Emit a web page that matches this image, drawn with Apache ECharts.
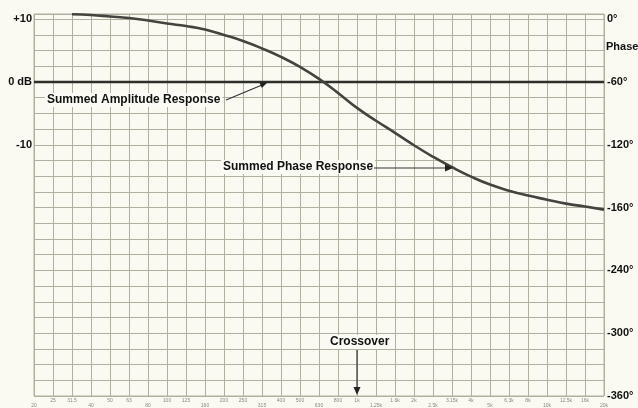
<!DOCTYPE html>
<html><head><meta charset="utf-8">
<script src="https://cdn.jsdelivr.net/npm/echarts@6/dist/echarts.min.js"></script>
<style>html,body{margin:0;padding:0;background:#fafaf3}#c{width:638px;height:408px}</style>
</head><body><div id="c"></div>
<script>
// 1/3-octave frequency labels (Hz)
const freqLabels = ['20','25','31.5','40','50','63','80','100','125','160','200','250','315','400','500','630','800','1k','1.25k','1.6k','2k','2.5k','3.15k','4k','5k','6.3k','8k','10k','12.5k','16k','20k'];
// Summed amplitude response (dB): flat at 0 dB
const amplitudeDb = [0,0,0,0,0,0,0,0,0,0,0,0,0,0,0,0,0,0,0,0,0,0,0,0,0,0,0,0,0,0,0];
// Summed phase response (degrees)
const phaseDeg = [null,null,4.7,4,2.6,1.1,-1.2,-4.1,-6.5,-9.8,-15,-20.8,-27.9,-36,-45.6,-57,-70.4,-84.7,-97,-108.5,-120.4,-131.4,-141.4,-150.4,-158,-163.8,-168.5,-172.4,-176.2,-179,-181.9];
// Tick labels
const dbTickValues = [10, 0, -10];
const dbTickTexts = ['+10', '0 dB', '-10'];
const phaseTickValues = [0, -60, -120, -180, -240, -300, -360];
const phaseTickTexts = ['0°', '-60°', '-120°', '-160°', '-240°', '-300°', '-360°'];

const gridColor = '#b0b0a0';
const ink = '#111111';
const font = '"Liberation Sans", Arial, sans-serif';

function lookup(vals, texts, v) {
  for (let i = 0; i < vals.length; i++) if (Math.abs(vals[i] - v) < 1e-6) return texts[i];
  return '';
}

const chart = echarts.init(document.getElementById('c'), null, {renderer: 'canvas'});
const labelBox = {backgroundColor: '#fbfbf6', padding: [1, 2]};
chart.setOption({
  backgroundColor: '#fafaf3',
  animation: false,
  textStyle: {fontFamily: font},
  grid: {left: 34, right: 34, top: 14, bottom: 11, show: true, borderColor: gridColor, borderWidth: 1},
  xAxis: [
    {type: 'category', data: freqLabels, boundaryGap: false,
      axisLine: {show: false}, axisTick: {show: false},
      splitLine: {show: true, interval: 0, lineStyle: {color: gridColor, width: 1}},
      axisLabel: {interval: (i) => i % 3 !== 0, fontSize: 5, color: '#8a8a80', margin: 2}},
    {type: 'category', data: freqLabels, boundaryGap: false, position: 'bottom',
      axisLine: {show: false}, axisTick: {show: false}, splitLine: {show: false},
      axisLabel: {interval: (i) => i % 3 === 0, fontSize: 5, color: '#8a8a80', margin: 7}}
  ],
  yAxis: [
    {type: 'value', position: 'left', min: -50, max: 65 / 6, interval: 10,
      splitLine: {show: false}, axisLine: {show: false}, axisTick: {show: false},
      axisLabel: {formatter: (v) => lookup(dbTickValues, dbTickTexts, v), fontWeight: 'bold', fontSize: 11, color: ink, margin: 2}},
    {type: 'value', position: 'right', min: -360, max: 5, interval: 15,
      splitLine: {show: true, lineStyle: {color: gridColor, width: 1}},
      axisLine: {show: false}, axisTick: {show: false},
      axisLabel: {formatter: (v) => lookup(phaseTickValues, phaseTickTexts, v), fontWeight: 'bold', fontSize: 11, color: ink, margin: 3}}
  ],
  series: [
    {name: 'Summed Amplitude Response', type: 'line', xAxisIndex: 0, yAxisIndex: 0, data: amplitudeDb,
      showSymbol: false, lineStyle: {color: '#2f2f2a', width: 2.5}},
    {name: 'Summed Phase Response', type: 'line', xAxisIndex: 0, yAxisIndex: 1, data: phaseDeg,
      smooth: true, showSymbol: false, lineStyle: {color: '#44443e', width: 2.6}}
  ],
  graphic: [
    {type: 'text', left: 45, top: 93, z: 10, style: Object.assign({text: 'Summed Amplitude Response', font: 'bold 12px ' + font, fill: ink}, labelBox)},
    {type: 'line', z: 10, shape: {x1: 226, y1: 100, x2: 262, y2: 85}, style: {stroke: '#333', lineWidth: 1.2}},
    {type: 'polygon', z: 10, shape: {points: [[268, 82], [261.8, 88], [259.4, 82.4]]}, style: {fill: '#222'}},
    {type: 'text', left: 221, top: 160, z: 10, style: Object.assign({text: 'Summed Phase Response', font: 'bold 12px ' + font, fill: ink}, labelBox)},
    {type: 'line', z: 10, shape: {x1: 374, y1: 168, x2: 447, y2: 168}, style: {stroke: '#333', lineWidth: 1.2}},
    {type: 'polygon', z: 10, shape: {points: [[453, 168], [445, 164.5], [445, 171.5]]}, style: {fill: '#222'}},
    {type: 'text', left: 328, top: 335, z: 10, style: Object.assign({text: 'Crossover', font: 'bold 12px ' + font, fill: ink}, labelBox)},
    {type: 'line', z: 10, shape: {x1: 357, y1: 350, x2: 357, y2: 389}, style: {stroke: '#333', lineWidth: 1.2}},
    {type: 'polygon', z: 10, shape: {points: [[357, 395], [353.5, 387], [360.5, 387]]}, style: {fill: '#222'}},
    {type: 'text', left: 606, top: 41, z: 10, style: {text: 'Phase', font: 'bold 11px ' + font, fill: ink}}
  ]
});
</script>
</body></html>
